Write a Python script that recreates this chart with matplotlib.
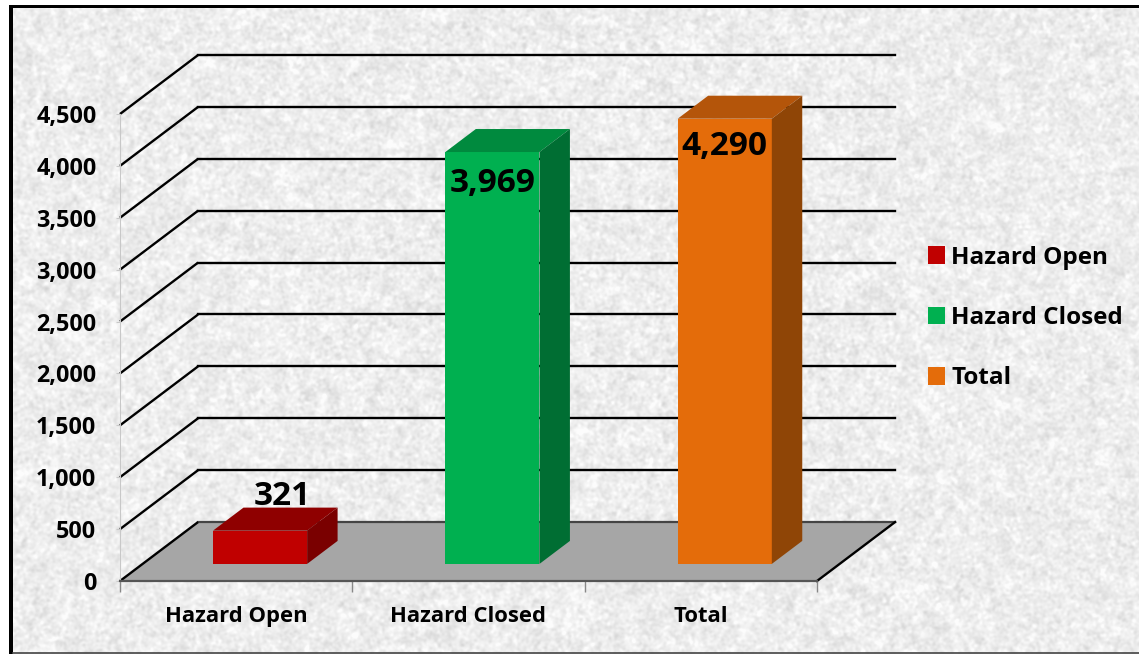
"""3D-look column chart: hazard counts, drawn on a mottled paper background."""

import matplotlib

matplotlib.use("Agg")
import matplotlib.pyplot as plt
import numpy as np
from matplotlib.patches import Patch, Polygon
from matplotlib.ticker import FuncFormatter

CATEGORIES = ["Hazard Open", "Hazard Closed", "Total"]
VALUES = [321, 3969, 4290]
GRID_VALUES = list(range(0, 5000, 500))

FACE = ["#c00000", "#00b050", "#e46c0a"]
TOP = ["#8f0000", "#008a3e", "#b4550a"]
SIDE = ["#7a0000", "#006e33", "#8f4506"]

W, H = 1139, 654
# depth of the chart box, in category units and value units
DX = 0.336
DY = 568
BAR_W = 0.405
BAR_SHIFT = 0.103
FRONT, BACK = 0.29, 0.68

plt.rcParams["font.family"] = ["Open Sans", "DejaVu Sans"]
plt.rcParams["font.weight"] = "bold"


def texture():
    # paper mottling, only decoration behind the chart
    rng = np.random.default_rng(7)
    fy = np.fft.fftfreq(H)[:, None]
    fx = np.fft.rfftfreq(W)[None, :]
    r2 = fx**2 + fy**2
    out = np.zeros((H, W))
    for sigma, amp in [(1.3, 5.5), (3.5, 3.0)]:
        n = rng.normal(size=(H, W))
        s = np.fft.irfft2(np.fft.rfft2(n) * np.exp(-2 * (np.pi * sigma) ** 2 * r2), s=(H, W))
        out += amp * s / s.std()
    return np.clip(237 + out, 205, 252) / 255


fig = plt.figure(figsize=(W / 100, H / 100), dpi=100)

bg = fig.add_axes([0, 0, 1, 1], zorder=0)
bg.imshow(texture(), cmap="gray", vmin=0, vmax=1, aspect="auto", extent=(0, W, H, 0))
bg.set_xlim(0, W)
bg.set_ylim(H, 0)
bg.axis("off")
# outer frame
bg.fill_between([0, W], 0, 5, color="white", lw=0)
bg.fill_between([0, 9], 0, H, color="white", lw=0)
bg.fill_between([9, W], 5, 8, color="black", lw=0)
bg.fill_between([9, 13], 5, H, color="black", lw=0)
bg.plot([13, W], [652.5, 652.5], color="#444444", lw=1.2)

# front plane of the box: 120..817 px across, 581..114 px up
ax = fig.add_axes([120 / W, 1 - 581 / H, 697 / W, 467 / H], zorder=1)
ax.patch.set_visible(False)
ax.set_xlim(0, 3)
ax.set_ylim(0, 4500)
for s in ["top", "right"]:
    ax.spines[s].set_visible(False)
ax.spines["left"].set_color("#c8c8c8")
ax.spines["left"].set_linewidth(0.8)
ax.spines["bottom"].set_color("#555555")
ax.spines["bottom"].set_linewidth(1.6)
ax.spines["bottom"].set_zorder(4)

ax.set_yticks(GRID_VALUES)
ax.yaxis.set_major_formatter(FuncFormatter(lambda v, _: f"{int(v):,}"))
ax.tick_params(axis="y", length=3, color="#c8c8c8", pad=14, labelsize=16.8)
ax.set_xticks(range(4))
ax.set_xticklabels([])
ax.tick_params(axis="x", which="major", length=8, color="#888888", width=1)
ax.set_xticks(np.arange(3) + 0.5, CATEGORIES, minor=True)
ax.tick_params(axis="x", which="minor", length=0, pad=18, labelsize=15.8)

# floor
ax.add_patch(Polygon([(0, 0), (DX, DY), (3 + DX, DY), (3, 0)], closed=True,
                     facecolor="#a6a6a6", edgecolor="none", clip_on=False, zorder=1))
ax.plot([DX, 3 + DX], [DY, DY], color="#444444", lw=1.6, clip_on=False, zorder=1.5)
ax.plot([3, 3 + DX], [0, DY], color="black", lw=1.7, clip_on=False, zorder=1.5)

# wall lines
for v in GRID_VALUES:
    ax.plot([0, DX], [v, v + DY], color="black", lw=1.7, clip_on=False, zorder=1.6,
            solid_capstyle="butt")
    if v > 0:
        ax.plot([DX, 3 + DX], [v + DY, v + DY], color="black", lw=1.7, clip_on=False, zorder=1.2)

# columns
for i, v in enumerate(VALUES):
    cx = i + 0.5 + BAR_SHIFT
    x0 = cx - BAR_W / 2
    x1 = cx + BAR_W / 2
    base = FRONT * DY
    d = BACK - FRONT
    ddx = d * DX
    ddy = d * DY
    ax.add_patch(Polygon([(x0, base), (x1, base), (x1, base + v), (x0, base + v)],
                         closed=True, facecolor=FACE[i], edgecolor="none", clip_on=False, zorder=3))
    ax.add_patch(Polygon([(x0, base + v), (x1, base + v), (x1 + ddx, base + v + ddy), (x0 + ddx, base + v + ddy)],
                         closed=True, facecolor=TOP[i], edgecolor="none", clip_on=False, zorder=3))
    ax.add_patch(Polygon([(x1, base), (x1 + ddx, base + ddy), (x1 + ddx, base + v + ddy), (x1, base + v)],
                         closed=True, facecolor=SIDE[i], edgecolor="none", clip_on=False, zorder=3))

# value labels
ax.text(0.5 + BAR_SHIFT + 0.095, FRONT * DY + VALUES[0] + 330, f"{VALUES[0]:,}", ha="center", va="center",
        fontsize=24, clip_on=False, zorder=2.5)
ax.text(1.5 + BAR_SHIFT, FRONT * DY + VALUES[1] - 300, f"{VALUES[1]:,}", ha="center", va="center",
        fontsize=24, clip_on=False, zorder=5)
ax.text(2.5 + BAR_SHIFT, FRONT * DY + VALUES[2] - 270, f"{VALUES[2]:,}", ha="center", va="center",
        fontsize=24, clip_on=False, zorder=5)

handles = [Patch(facecolor=c, edgecolor="none") for c in FACE]
fig.legend(handles, CATEGORIES, loc="center left", bbox_to_anchor=(928 / W, 1 - 318 / H),
           frameon=False, fontsize=17.5, handlelength=0.71, handleheight=0.71,
           handletextpad=0.24, labelspacing=1.5, borderpad=0, borderaxespad=0)

fig.savefig("out.png", dpi=100)
